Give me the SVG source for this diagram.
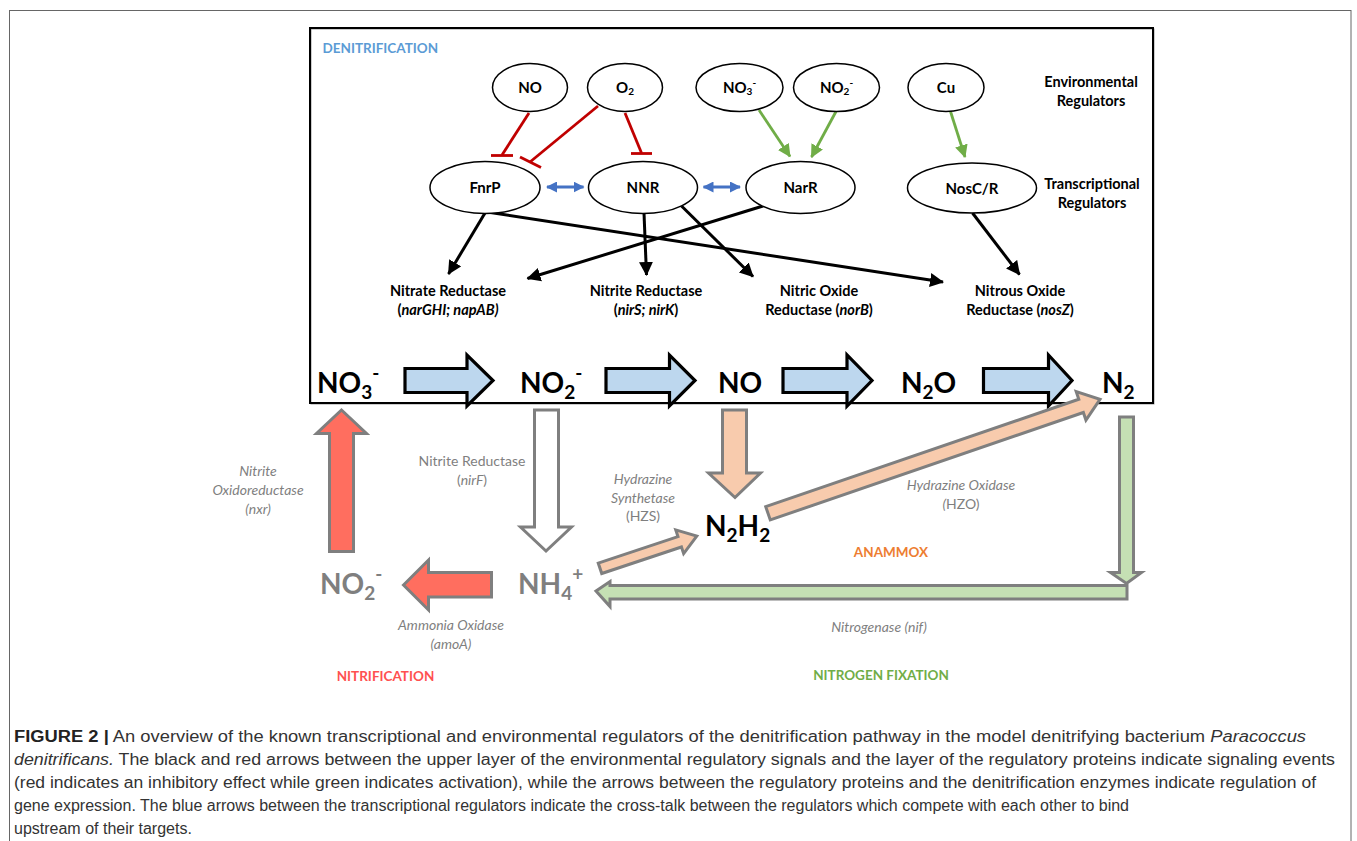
<svg xmlns="http://www.w3.org/2000/svg" width="1357" height="841" viewBox="0 0 1357 841">
<style>
.t{font-family:Lato,'Liberation Sans',sans-serif;}
.b{font-weight:bold;}
.nd{font-family:Lato,'Liberation Sans',sans-serif;font-weight:bold;font-size:15px;text-anchor:middle;fill:#000;}
.enz{font-family:Lato,'Liberation Sans',sans-serif;font-weight:bold;font-size:14.5px;text-anchor:middle;fill:#000;}
.sp{font-family:Lato,'Liberation Sans',sans-serif;font-weight:bold;font-size:28px;fill:#000;}
.spg{font-family:Lato,'Liberation Sans',sans-serif;font-weight:bold;font-size:28px;fill:#7f7f7f;}
.lab{font-family:Lato,'Liberation Sans',sans-serif;font-size:14px;text-anchor:middle;fill:#7f7f7f;}
.it{font-style:italic;}
.cap{font-family:'Liberation Sans',Arial,sans-serif;font-size:16px;fill:#333;}
.ell{fill:#fff;stroke:#000;stroke-width:1.5;}
.blk{stroke:#000;stroke-width:3;fill:none;marker-end:url(#ahB);}
.inh{stroke:#c00000;stroke-width:2.8;fill:none;}
.grn{stroke:#70ad47;stroke-width:2.8;fill:none;marker-end:url(#ahG);}
.blu{stroke:#4472c4;stroke-width:2.8;fill:none;marker-start:url(#ahLs);marker-end:url(#ahL);}
.bigb{fill:#bdd7ee;stroke:#000;stroke-width:3.2;stroke-linejoin:miter;}
.low{stroke:#7f7f7f;stroke-width:3;stroke-linejoin:miter;}
</style>
<defs>
<marker id="ahB" markerUnits="userSpaceOnUse" markerWidth="16" markerHeight="14" refX="13" refY="7" orient="auto"><path d="M0,0 L14,7 L0,14 Z" fill="#000"/></marker>
<marker id="ahG" markerUnits="userSpaceOnUse" markerWidth="14" markerHeight="14" refX="12" refY="6.5" orient="auto"><path d="M0,0 L13,6.5 L0,13 Z" fill="#70ad47"/></marker>
<marker id="ahL" markerUnits="userSpaceOnUse" markerWidth="12" markerHeight="12" refX="10" refY="5.5" orient="auto"><path d="M0,0 L11,5.5 L0,11 Z" fill="#4472c4"/></marker>
<marker id="ahLs" markerUnits="userSpaceOnUse" markerWidth="12" markerHeight="12" refX="1" refY="5.5" orient="auto"><path d="M11,0 L0,5.5 L11,11 Z" fill="#4472c4"/></marker>
</defs>
<rect x="0" y="0" width="1357" height="841" fill="#fff"/>
<rect x="9.5" y="10.5" width="1341.5" height="860" fill="none" stroke="#666" stroke-width="1"/>
<rect x="311" y="29" width="843" height="375" fill="none" stroke="#999" stroke-width="1"/>
<rect x="310" y="28" width="843" height="375" fill="none" stroke="#000" stroke-width="2"/>
<text class="t b" x="322.5" y="52.5" font-size="13.5" fill="#5b9bd5">DENITRIFICATION</text>
<text class="enz" x="1091" y="87">Environmental</text>
<text class="enz" x="1091" y="106">Regulators</text>
<text class="enz" x="1092" y="189">Transcriptional</text>
<text class="enz" x="1092" y="208">Regulators</text>

<g id="connectors">
<line class="inh" x1="529" y1="113" x2="502" y2="155"/>
<line class="inh" x1="491" y1="155.5" x2="513" y2="155.5"/>
<line class="inh" x1="598" y1="106" x2="530" y2="162"/>
<line class="inh" x1="520" y1="157" x2="541" y2="167.5"/>
<line class="inh" x1="625" y1="113" x2="641.5" y2="153"/>
<line class="inh" x1="631" y1="153.5" x2="652" y2="153.5"/>
<line class="grn" x1="759" y1="110" x2="790" y2="156.5"/>
<line class="grn" x1="836" y1="111.5" x2="811.5" y2="157"/>
<line class="grn" x1="950.5" y1="111.5" x2="965" y2="157"/>
<line class="blu" x1="547" y1="187" x2="583.5" y2="187"/>
<line class="blu" x1="703.5" y1="187" x2="740" y2="187"/>
<line class="blk" x1="485" y1="213" x2="448.5" y2="274"/>
<line class="blk" x1="487" y1="212" x2="943" y2="282"/>
<line class="blk" x1="644" y1="213" x2="646.5" y2="275"/>
<line class="blk" x1="681.5" y1="206" x2="753" y2="276.5"/>
<line class="blk" x1="763" y1="206" x2="527.5" y2="278.5"/>
<line class="blk" x1="972.5" y1="213" x2="1019.5" y2="274.5"/>
</g>

<g id="node-NO"><ellipse class="ell" cx="530" cy="87.5" rx="37.5" ry="24"/><text class="nd" x="530" y="93">NO</text></g>
<g id="node-O2"><ellipse class="ell" cx="625" cy="87.5" rx="37.5" ry="24"/><text class="nd" x="625" y="93">O<tspan font-size="10" dy="2">2</tspan></text></g>
<g id="node-NO3"><ellipse class="ell" cx="739.5" cy="87.5" rx="43.5" ry="24"/><text class="nd" x="739.5" y="93">NO<tspan font-size="10" dy="2">3</tspan><tspan font-size="10" dy="-9">-</tspan></text></g>
<g id="node-NO2"><ellipse class="ell" cx="836.5" cy="87.5" rx="43" ry="24"/><text class="nd" x="836.5" y="93">NO<tspan font-size="10" dy="2">2</tspan><tspan font-size="10" dy="-9">-</tspan></text></g>
<g id="node-Cu"><ellipse class="ell" cx="946" cy="87.5" rx="38" ry="24"/><text class="nd" x="946" y="93">Cu</text></g>
<g id="node-FnrP"><ellipse class="ell" cx="485" cy="187.5" rx="55" ry="26"/><text class="nd" x="485" y="193">FnrP</text></g>
<g id="node-NNR"><ellipse class="ell" cx="643" cy="187.5" rx="54.5" ry="26"/><text class="nd" x="643" y="193">NNR</text></g>
<g id="node-NarR"><ellipse class="ell" cx="800.5" cy="187.5" rx="54.5" ry="26"/><text class="nd" x="800.5" y="193">NarR</text></g>
<g id="node-NosCR"><ellipse class="ell" cx="972" cy="188" rx="64.5" ry="25"/><text class="nd" x="972" y="193.5">NosC/R</text></g>

<g id="node-NitrateReductase"><text class="enz" x="448" y="296">Nitrate Reductase</text><text class="enz" x="448" y="315">(<tspan class="it">narGHI; napAB)</tspan></text></g>
<g id="node-NitriteReductase"><text class="enz" x="646" y="296">Nitrite Reductase</text><text class="enz" x="646" y="315">(<tspan class="it">nirS; nirK</tspan>)</text></g>
<g id="node-NitricOxideReductase"><text class="enz" x="819" y="296">Nitric Oxide</text><text class="enz" x="819" y="315">Reductase (<tspan class="it">norB</tspan>)</text></g>
<g id="node-NitrousOxideReductase"><text class="enz" x="1020" y="296">Nitrous Oxide</text><text class="enz" x="1020" y="315">Reductase (<tspan class="it">nosZ</tspan>)</text></g>

<g id="pathway-arrows">
<path class="bigb" d="M405,368.5 H467 V355 L493,380.5 L467,406 V392.5 H405 Z"/>
<path class="bigb" d="M606,368.5 H669.5 V355 L695,380.5 L669.5,406 V392.5 H606 Z"/>
<path class="bigb" d="M783,368.5 H847 V355 L872,380.5 L847,406 V392.5 H783 Z"/>
<path class="bigb" d="M983.5,368.5 H1048.5 V355 L1072,380.5 L1048.5,406 V392.5 H983.5 Z"/>
</g>

<g id="node-NO3-main"><text class="sp" x="317" y="393">NO<tspan font-size="19" dy="6">3</tspan><tspan font-size="19" dy="-19">-</tspan></text></g>
<g id="node-NO2-main"><text class="sp" x="520" y="393">NO<tspan font-size="19" dy="6">2</tspan><tspan font-size="19" dy="-19">-</tspan></text></g>
<g id="node-NO-main"><text class="sp" x="718" y="393">NO</text></g>
<g id="node-N2O-main"><text class="sp" x="901" y="393">N<tspan font-size="19" dy="6">2</tspan><tspan dy="-6">O</tspan></text></g>
<g id="node-N2-main"><text class="sp" x="1102" y="393">N<tspan font-size="19" dy="6">2</tspan></text></g>

<g id="lower-arrows">
<path class="low" fill="#ff6e5f" d="M341.5,410 L366.5,433.5 H353.5 V551.5 H329.5 V433.5 H316.5 Z"/>
<path class="low" fill="#ff6e5f" d="M403.5,585 L428.5,560 V572.5 H491.5 V597 H428.5 V610 Z"/>
<path class="low" fill="#fff" d="M534.5,410 H558.5 V527 H571.5 L546,551 L520.5,527 H534.5 Z"/>
<path class="low" fill="#f8cbad" d="M722.5,410 H746.5 V473 H760.5 L735,497.5 L708.5,473 H722.5 Z"/>
<path class="low" fill="#f8cbad" transform="translate(600,568.3) rotate(-18.4)" d="M0,-5.5 H84 V-12.5 L102,0 L84,12.5 V5.5 H0 Z"/>
<path class="low" fill="#f8cbad" transform="translate(768,513.3) rotate(-18.94)" d="M0,-7 H331 V-15 L351,0 L331,15 V7 H0 Z"/>
<path class="low" fill="#c5e0b4" d="M1119.5,417 H1133.5 V572.5 H1141.5 L1126.5,583.5 L1110.5,572.5 H1119.5 Z"/>
<path class="low" fill="#c5e0b4" d="M596,591 L610,581.5 V585.5 H1127 V599 H610 V606.5 Z"/>
</g>

<g id="node-N2H2"><text class="sp" x="705" y="536">N<tspan font-size="19" dy="6">2</tspan><tspan dy="-6">H</tspan><tspan font-size="19" dy="6">2</tspan></text></g>
<g id="node-NO2-low"><text class="spg" x="320" y="594">NO<tspan font-size="19" dy="6">2</tspan><tspan font-size="19" dy="-19">-</tspan></text></g>
<g id="node-NH4-low"><text class="spg" x="518" y="594">NH<tspan font-size="19" dy="6">4</tspan><tspan font-size="19" dy="-19">+</tspan></text></g>

<g id="labels-lower">
<text class="lab it" x="258" y="476">Nitrite</text>
<text class="lab it" x="258" y="495">Oxidoreductase</text>
<text class="lab it" x="258" y="514">(nxr)</text>
<text class="lab" x="472" y="466">Nitrite Reductase</text>
<text class="lab" x="472" y="485">(<tspan class="it">nirF</tspan>)</text>
<text class="lab it" x="643" y="484">Hydrazine</text>
<text class="lab it" x="643" y="503">Synthetase</text>
<text class="lab" x="643" y="521">(HZS)</text>
<text class="lab it" x="451" y="630">Ammonia Oxidase</text>
<text class="lab it" x="451" y="649">(amoA)</text>
<text class="lab it" x="961" y="490">Hydrazine Oxidase</text>
<text class="lab" x="961" y="509"><tspan class="it">(</tspan>HZO)</text>
<text class="lab it" x="879" y="632">Nitrogenase (nif)</text>
<text class="t b" x="385.5" y="681" font-size="13.5" fill="#ff5050" text-anchor="middle">NITRIFICATION</text>
<text class="t b" x="891" y="557" font-size="13.5" fill="#ed7d31" text-anchor="middle">ANAMMOX</text>
<text class="t b" x="881" y="680" font-size="13.5" fill="#70ad47" text-anchor="middle">NITROGEN FIXATION</text>
</g>

<g id="caption">
<text class="cap" x="14" y="742" textLength="1292" lengthAdjust="spacingAndGlyphs"><tspan font-weight="bold" fill="#222">FIGURE 2 |</tspan> An overview of the known transcriptional and environmental regulators of the denitrification pathway in the model denitrifying bacterium <tspan font-style="italic">Paracoccus</tspan></text>
<text class="cap" x="14" y="765" textLength="1321" lengthAdjust="spacingAndGlyphs"><tspan font-style="italic">denitrificans.</tspan> The black and red arrows between the upper layer of the environmental regulatory signals and the layer of the regulatory proteins indicate signaling events</text>
<text class="cap" x="14" y="788" textLength="1302" lengthAdjust="spacingAndGlyphs">(red indicates an inhibitory effect while green indicates activation), while the arrows between the regulatory proteins and the denitrification enzymes indicate regulation of</text>
<text class="cap" x="14" y="811">gene expression. The blue arrows between the transcriptional regulators indicate the cross-talk between the regulators which compete with each other to bind</text>
<text class="cap" x="14" y="834">upstream of their targets.</text>
</g>
</svg>
